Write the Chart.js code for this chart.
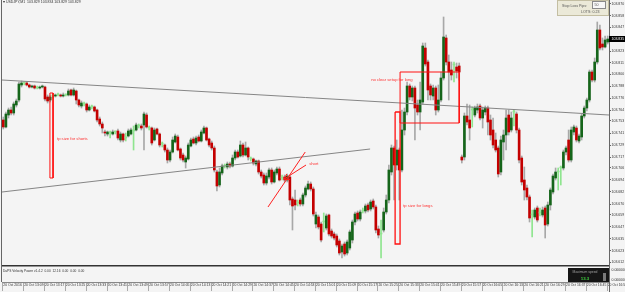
<!DOCTYPE html>
<html><head><meta charset="utf-8">
<script src="https://cdn.jsdelivr.net/npm/chart.js@4.4.1/dist/chart.umd.min.js"></script>
<style>html,body{margin:0;padding:0;background:#f4f4f4;overflow:hidden}canvas{display:block}</style>
</head><body><canvas id="c" width="625" height="292"></canvas>
<script>
// USDJPY M1 candles (prices)
const opens = [103.754,103.747,103.759,103.764,103.761,103.769,103.774,103.789,103.791,103.791,
103.789,103.787,103.788,103.786,103.786,103.787,103.787,103.777,103.774,103.778,
103.778,103.779,103.779,103.778,103.779,103.779,103.784,103.779,103.783,103.774,
103.768,103.770,103.770,103.764,103.767,103.767,103.764,103.755,103.750,103.742,
103.740,103.741,103.740,103.742,103.743,103.734,103.740,103.736,103.738,103.740,
103.743,103.744,103.748,103.748,103.749,103.759,103.746,103.746,103.734,103.745,
103.740,103.730,103.729,103.724,103.714,103.722,103.732,103.737,103.725,103.719,
103.712,103.715,103.728,103.735,103.731,103.737,103.733,103.741,103.746,103.735,
103.731,103.726,103.702,103.689,103.701,103.708,103.707,103.710,103.708,103.716,
103.722,103.718,103.729,103.719,103.726,103.715,103.715,103.710,103.713,103.702,
103.699,103.691,103.697,103.704,103.692,103.701,103.705,103.696,103.697,103.694,
103.697,103.675,103.674,103.671,103.674,103.670,103.679,103.685,103.690,103.685,
103.650,103.657,103.650,103.652,103.646,103.659,103.643,103.640,103.638,103.633,
103.622,103.630,103.621,103.626,103.634,103.652,103.661,103.655,103.663,103.663,
103.669,103.665,103.673,103.667,103.645,103.640,103.644,103.662,103.674,103.702,
103.726,103.709,103.724,103.704,103.744,103.762,103.788,103.777,103.786,103.769,
103.762,103.772,103.826,103.812,103.788,103.778,103.786,103.764,103.774,103.796,
103.836,103.812,103.804,103.809,103.807,103.808,103.717,103.717,103.758,103.754,
103.764,103.759,103.764,103.768,103.756,103.762,103.766,103.754,103.744,103.734,
103.726,103.702,103.732,103.739,103.759,103.744,103.762,103.760,103.744,103.716,
103.694,103.686,103.677,103.659,103.657,103.666,103.661,103.659,103.666,103.650,
103.669,103.682,103.696,103.702,103.706,103.706,103.722,103.734,103.714,103.742,
103.746,103.733,103.737,103.758,103.766,103.774,103.802,103.794,103.812,103.844,
103.830,103.827,103.832];
const highs = [103.757,103.762,103.766,103.767,103.772,103.775,103.792,103.793,103.792,103.792,
103.790,103.789,103.789,103.788,103.788,103.789,103.788,103.779,103.779,103.780,
103.780,103.781,103.780,103.781,103.780,103.785,103.785,103.786,103.784,103.775,
103.773,103.772,103.771,103.769,103.769,103.768,103.765,103.757,103.752,103.744,
103.743,103.743,103.744,103.743,103.745,103.742,103.741,103.741,103.745,103.746,
103.748,103.751,103.750,103.750,103.762,103.761,103.748,103.747,103.746,103.746,
103.741,103.732,103.730,103.726,103.724,103.737,103.740,103.739,103.726,103.721,
103.718,103.731,103.736,103.737,103.738,103.739,103.744,103.748,103.747,103.736,
103.733,103.728,103.704,103.706,103.710,103.710,103.712,103.712,103.719,103.724,
103.724,103.733,103.731,103.732,103.727,103.717,103.716,103.714,103.714,103.704,
103.701,103.701,103.706,103.706,103.704,103.707,103.707,103.699,103.699,103.700,
103.699,103.677,103.684,103.674,103.676,103.681,103.688,103.693,103.692,103.687,
103.662,103.659,103.652,103.661,103.660,103.660,103.645,103.642,103.640,103.635,
103.630,103.632,103.634,103.644,103.654,103.662,103.663,103.664,103.666,103.670,
103.671,103.674,103.675,103.669,103.648,103.654,103.666,103.679,103.709,103.729,
103.728,103.734,103.726,103.764,103.766,103.792,103.790,103.788,103.788,103.774,
103.792,103.831,103.831,103.814,103.790,103.789,103.788,103.789,103.802,103.857,
103.839,103.819,103.812,103.812,103.811,103.811,103.719,103.761,103.770,103.769,
103.767,103.768,103.770,103.770,103.767,103.768,103.768,103.759,103.756,103.741,
103.728,103.738,103.744,103.764,103.764,103.762,103.764,103.762,103.746,103.718,
103.707,103.689,103.679,103.664,103.666,103.668,103.666,103.667,103.668,103.672,
103.686,103.700,103.706,103.706,103.708,103.724,103.728,103.744,103.747,103.749,
103.748,103.740,103.760,103.768,103.776,103.804,103.804,103.816,103.852,103.849,
103.836,103.838,103.838];
const lows = [103.745,103.746,103.756,103.759,103.759,103.767,103.772,103.787,103.789,103.788,
103.786,103.786,103.785,103.785,103.785,103.786,103.773,103.771,103.772,103.776,
103.777,103.778,103.777,103.777,103.778,103.778,103.778,103.778,103.770,103.767,
103.766,103.768,103.762,103.763,103.765,103.762,103.752,103.748,103.741,103.738,
103.738,103.736,103.739,103.740,103.734,103.732,103.732,103.733,103.737,103.739,
103.724,103.743,103.746,103.744,103.724,103.746,103.744,103.729,103.733,103.739,
103.727,103.727,103.722,103.711,103.712,103.721,103.731,103.723,103.714,103.712,
103.706,103.714,103.727,103.730,103.729,103.732,103.732,103.740,103.733,103.727,
103.724,103.702,103.683,103.687,103.699,103.706,103.705,103.706,103.707,103.714,
103.716,103.717,103.717,103.718,103.714,103.713,103.709,103.708,103.700,103.696,
103.689,103.689,103.695,103.690,103.691,103.699,103.693,103.694,103.692,103.692,
103.669,103.644,103.664,103.668,103.668,103.668,103.677,103.684,103.683,103.658,
103.646,103.645,103.632,103.642,103.644,103.638,103.636,103.634,103.627,103.619,
103.616,103.618,103.619,103.624,103.631,103.649,103.653,103.653,103.661,103.661,
103.662,103.663,103.665,103.641,103.636,103.616,103.642,103.660,103.671,103.699,
103.674,103.704,103.674,103.702,103.739,103.759,103.774,103.773,103.734,103.759,
103.744,103.770,103.808,103.774,103.774,103.774,103.759,103.762,103.772,103.794,
103.809,103.774,103.794,103.792,103.796,103.794,103.711,103.714,103.749,103.734,
103.747,103.757,103.761,103.754,103.746,103.759,103.739,103.734,103.726,103.722,
103.697,103.699,103.714,103.724,103.739,103.742,103.748,103.741,103.711,103.689,
103.674,103.674,103.652,103.637,103.655,103.652,103.658,103.657,103.636,103.648,
103.664,103.680,103.694,103.684,103.689,103.704,103.719,103.712,103.712,103.739,
103.732,103.731,103.734,103.756,103.763,103.772,103.792,103.792,103.810,103.824,
103.824,103.826,103.830];
const closes = [103.747,103.760,103.764,103.761,103.770,103.773,103.790,103.791,103.791,103.789,
103.787,103.788,103.786,103.786,103.787,103.788,103.775,103.773,103.777,103.778,
103.779,103.779,103.778,103.779,103.779,103.783,103.779,103.784,103.774,103.769,
103.771,103.770,103.764,103.767,103.767,103.763,103.754,103.750,103.746,103.741,
103.742,103.741,103.742,103.742,103.736,103.740,103.734,103.736,103.743,103.744,
103.743,103.749,103.748,103.746,103.760,103.747,103.746,103.731,103.744,103.740,
103.729,103.730,103.724,103.714,103.722,103.734,103.738,103.724,103.716,103.714,
103.716,103.729,103.734,103.731,103.736,103.733,103.742,103.746,103.734,103.729,
103.726,103.704,103.688,103.702,103.708,103.708,103.710,103.708,103.716,103.722,
103.717,103.729,103.719,103.726,103.717,103.715,103.711,103.713,103.702,103.698,
103.691,103.698,103.704,103.692,103.702,103.705,103.694,103.696,103.694,103.698,
103.674,103.668,103.669,103.671,103.670,103.679,103.686,103.690,103.685,103.660,
103.659,103.647,103.634,103.652,103.658,103.640,103.638,103.636,103.629,103.621,
103.628,103.620,103.632,103.642,103.652,103.660,103.655,103.662,103.663,103.668,
103.664,103.672,103.667,103.644,103.639,103.640,103.662,103.674,103.704,103.726,
103.709,103.724,103.704,103.744,103.762,103.788,103.777,103.786,103.766,103.762,
103.774,103.828,103.810,103.784,103.779,103.786,103.764,103.774,103.796,103.837,
103.812,103.802,103.799,103.809,103.803,103.802,103.714,103.758,103.752,103.746,
103.764,103.766,103.767,103.756,103.764,103.766,103.752,103.739,103.729,103.724,
103.700,103.734,103.739,103.756,103.742,103.756,103.762,103.744,103.714,103.692,
103.684,103.677,103.656,103.659,103.664,103.654,103.661,103.664,103.649,103.669,
103.684,103.698,103.702,103.702,103.706,103.722,103.726,103.714,103.744,103.747,
103.734,103.738,103.758,103.766,103.774,103.802,103.794,103.812,103.844,103.826,
103.827,103.834,103.835];

// price axis labels
const priceTicks = [103.870,103.858,103.847,103.835,103.823,103.811,103.800,103.788,103.776,103.764,103.753,103.741,
103.729,103.717,103.706,103.694,103.682,103.670,103.659,103.647,103.635,103.623,103.612];
// time axis (bar index -> label)
const timeTickIndex = [0,8,16,24,32,40,48,56,64,72,80,88,96,104,112,120,128,136,144,152,160,168,176,184,192,200,208,216,224,232];
const timeLabels = ['20 Oct 2016','20 Oct 13:09','20 Oct 13:17','20 Oct 13:25','20 Oct 13:33','20 Oct 13:41','20 Oct 13:49','20 Oct 13:57',
'20 Oct 14:05','20 Oct 14:13','20 Oct 14:21','20 Oct 14:29','20 Oct 14:37','20 Oct 14:45','20 Oct 14:53','20 Oct 15:01','20 Oct 15:09',
'20 Oct 15:17','20 Oct 15:25','20 Oct 15:33','20 Oct 15:41','20 Oct 15:49','20 Oct 15:57','20 Oct 16:05','20 Oct 16:13','20 Oct 16:21',
'20 Oct 16:29','20 Oct 16:37','20 Oct 16:45','20 Oct 16:53'];

// drawn objects (bar index, price)
const trendUpper = [{x:-0.5,y:103.794},{x:232.5,y:103.759}];
const trendLower = [{x:-0.5,y:103.682},{x:140.8,y:103.725}];
const boxShorts = [{x:17.9,y:103.781},{x:19.1,y:103.781},{x:19.1,y:103.696},{x:17.9,y:103.696},{x:17.9,y:103.781}];
const boxLongs = [{x:150.4,y:103.762},{x:152.3,y:103.762},{x:152.3,y:103.630},{x:150.4,y:103.630},{x:150.4,y:103.762}];
const boxSetup = [{x:152.3,y:103.802},{x:175.0,y:103.802},{x:175.0,y:103.751},{x:152.3,y:103.751},{x:152.3,y:103.802}];
const arrowLine = [{x:101.6,y:103.667},{x:115.9,y:103.722}];
const arrowPointer = [{x:116.2,y:103.709},{x:107.8,y:103.695},{x:109.9,y:103.6945},{x:107.8,y:103.695},{x:108.8,y:103.700}];
const noteText = ['tp size for shorts','no clear setup for long','tp size for longs','short'];
const noteIdx = [20.6,141.2,153.5,117.4];
const notePrice = [103.735,103.794,103.668,103.710];

const BG = '#f4f4f4', BULL = '#15651a', BEAR = '#c40000', DOJI = '#8fe58f', WICK = '#a8a8a8', NOTE = '#ff3030';
const isDoji = i => opens[i] === closes[i];

const decor = {
  id: 'decor',
  beforeDraw(chart) {
    const c = chart.ctx; c.save(); c.fillStyle = BG; c.fillRect(0, 0, chart.width, chart.height); c.restore();
  },
  afterDatasetsDraw(chart) {
    const {ctx, scales: {x, y}} = chart;
    ctx.save();
    ctx.font = '4.2px Arial, "Liberation Sans"'; ctx.fillStyle = NOTE; ctx.textBaseline = 'middle'; ctx.textAlign = 'left';
    noteText.forEach((t, i) => ctx.fillText(t, x.getPixelForValue(noteIdx[i]), y.getPixelForValue(notePrice[i])));
    ctx.restore();
  },
  afterDraw(chart) {
    const {ctx, scales: {x, y}, chartArea: a} = chart;
    ctx.save();
    ctx.lineWidth = 1;
    ctx.strokeStyle = '#666';
    ctx.beginPath(); ctx.moveTo(1.5, 0); ctx.lineTo(1.5, 282); ctx.stroke();
    ctx.beginPath(); ctx.moveTo(a.right + 0.5, a.bottom); ctx.lineTo(a.right + 0.5, 292); ctx.stroke();
    ctx.strokeStyle = '#888';
    ctx.beginPath(); ctx.moveTo(2, 282.5); ctx.lineTo(a.right, 282.5); ctx.stroke();
    ctx.strokeStyle = '#aaa';
    x.ticks.forEach(t => { const px = Math.round(x.getPixelForValue(t.value)) - 0.5; ctx.beginPath(); ctx.moveTo(px, 283); ctx.lineTo(px, 291); ctx.stroke(); });
    ctx.font = '3.5px Arial, "Liberation Sans"'; ctx.fillStyle = '#333'; ctx.textBaseline = 'middle'; ctx.textAlign = 'left';
    ctx.fillText('\u25BE USDJPY,M1  103.829 103.834 103.829 103.829', 3, 2.5);
    ctx.font = '3.2px Arial, "Liberation Sans"';
    ctx.fillText('DaPS Velocity Power v1.4.2  0.00  12.16  0.00  0.00  0.00', 3, 271);
    ctx.font = '3.5px Arial, "Liberation Sans"';
    ctx.fillText('0.000000', a.right + 2.5, 270);
    ctx.fillText('0.000000', a.right + 2.5, 280);
    const last = closes.length - 1, py = y.getPixelForValue(closes[last]);
    ctx.fillStyle = '#000'; ctx.fillRect(a.right, py - 3, 16, 6);
    ctx.fillStyle = '#fff'; ctx.fillText(closes[last].toFixed(3), a.right + 2.5, py);
    const pl = a.right - 52;
    ctx.fillStyle = '#ebe9d8'; ctx.fillRect(pl + 0.5, 0.5, 51, 15);
    ctx.strokeStyle = '#c3bea2'; ctx.strokeRect(pl + 0.5, 0.5, 51, 15);
    ctx.fillStyle = '#f7f7f7'; ctx.fillRect(pl + 35.5, 1.5, 13, 7); ctx.strokeStyle = '#8a8a8a'; ctx.strokeRect(pl + 35.5, 1.5, 13, 7);
    ctx.fillStyle = '#555'; ctx.font = '3.6px Arial, "Liberation Sans"';
    ctx.fillText('Stop Loss Pips:', pl + 5, 5.5);
    ctx.fillText('50', pl + 37.5, 5.2);
    ctx.fillText('LOTS: 0.23', pl + 24, 12);
    const bl = a.right - 41;
    ctx.fillStyle = '#151515'; ctx.fillRect(bl, 268, 41, 14);
    ctx.fillStyle = '#7a7a7a'; ctx.fillRect(bl + 35, 273, 3, 8);
    ctx.textAlign = 'center';
    ctx.fillStyle = '#a0a0a0'; ctx.font = '3.4px Arial, "Liberation Sans"'; ctx.fillText('Maximum speed', bl + 17, 272);
    ctx.fillStyle = '#3fcf3f'; ctx.font = 'bold 4.4px Arial, "Liberation Sans"'; ctx.fillText('13.3', bl + 17, 278.3);
    ctx.restore();
  }
};

const lineDs = (data, color, w, order) => ({type: 'line', data, borderColor: color, borderWidth: w, pointRadius: 0, tension: 0, fill: false, order});

new Chart(document.getElementById('c'), {
  type: 'bar',
  data: {
    datasets: [
      lineDs(arrowLine, '#ff2020', 1, 1),
      lineDs(arrowPointer, '#ff2020', 1, 1),
      lineDs(boxShorts, '#ff1010', 1, 1),
      lineDs(boxLongs, '#ff1010', 1.3, 1),
      lineDs(boxSetup, '#ff1010', 1, 1),
      lineDs(trendUpper, '#858585', 1, 2),
      lineDs(trendLower, '#858585', 1, 2),
      {type: 'bar', data: lows.map((l, i) => ({x: i, y: [l, highs[i]]})), grouped: false, barThickness: 1, minBarLength: 1,
       backgroundColor: c => isDoji(c.dataIndex) ? DOJI : WICK, order: 11},
      {type: 'bar', data: opens.map((o, i) => ({x: i, y: [o, closes[i]]})), grouped: false, barThickness: 2, minBarLength: 1,
       backgroundColor: c => { const i = c.dataIndex; return closes[i] > opens[i] ? BULL : closes[i] < opens[i] ? BEAR : DOJI; }, order: 10}
    ]
  },
  options: {
    responsive: false, animation: false, devicePixelRatio: 1, events: [],
    layout: {padding: {left: 2, top: 0, right: 0, bottom: 0}, autoPadding: false},
    plugins: {legend: {display: false}, tooltip: {enabled: false}},
    scales: {
      x: {
        type: 'linear', min: -0.5, max: 232.5, offset: false,
        afterFit: s => { s.height = 26; s.paddingLeft = 0; s.paddingRight = 0; },
        afterBuildTicks: s => { s.ticks = timeTickIndex.map(v => ({value: v})); },
        ticks: {autoSkip: false, maxRotation: 0, minRotation: 0, align: 'start', padding: 17, color: '#333',
                font: {size: 3.4, family: 'Arial, "Liberation Sans"'}, callback: (v, i) => timeLabels[i]},
        grid: {display: false, drawTicks: false, offset: false},
        border: {display: true, color: '#333', width: 1.5}
      },
      y: {
        position: 'right', min: 103.608, max: 103.874,
        afterFit: s => { s.width = 16; s.paddingTop = 0; s.paddingBottom = 0; },
        afterBuildTicks: s => { s.ticks = priceTicks.map(v => ({value: v})); },
        ticks: {padding: 0.5, crossAlign: 'near', color: '#333', font: {size: 3.5, family: 'Arial, "Liberation Sans"'},
                callback: v => v.toFixed(3)},
        grid: {drawOnChartArea: false, drawTicks: true, tickLength: 2, color: '#666'},
        border: {display: true, color: '#666', width: 1}
      }
    }
  },
  plugins: [decor]
});
</script>
</body></html>
